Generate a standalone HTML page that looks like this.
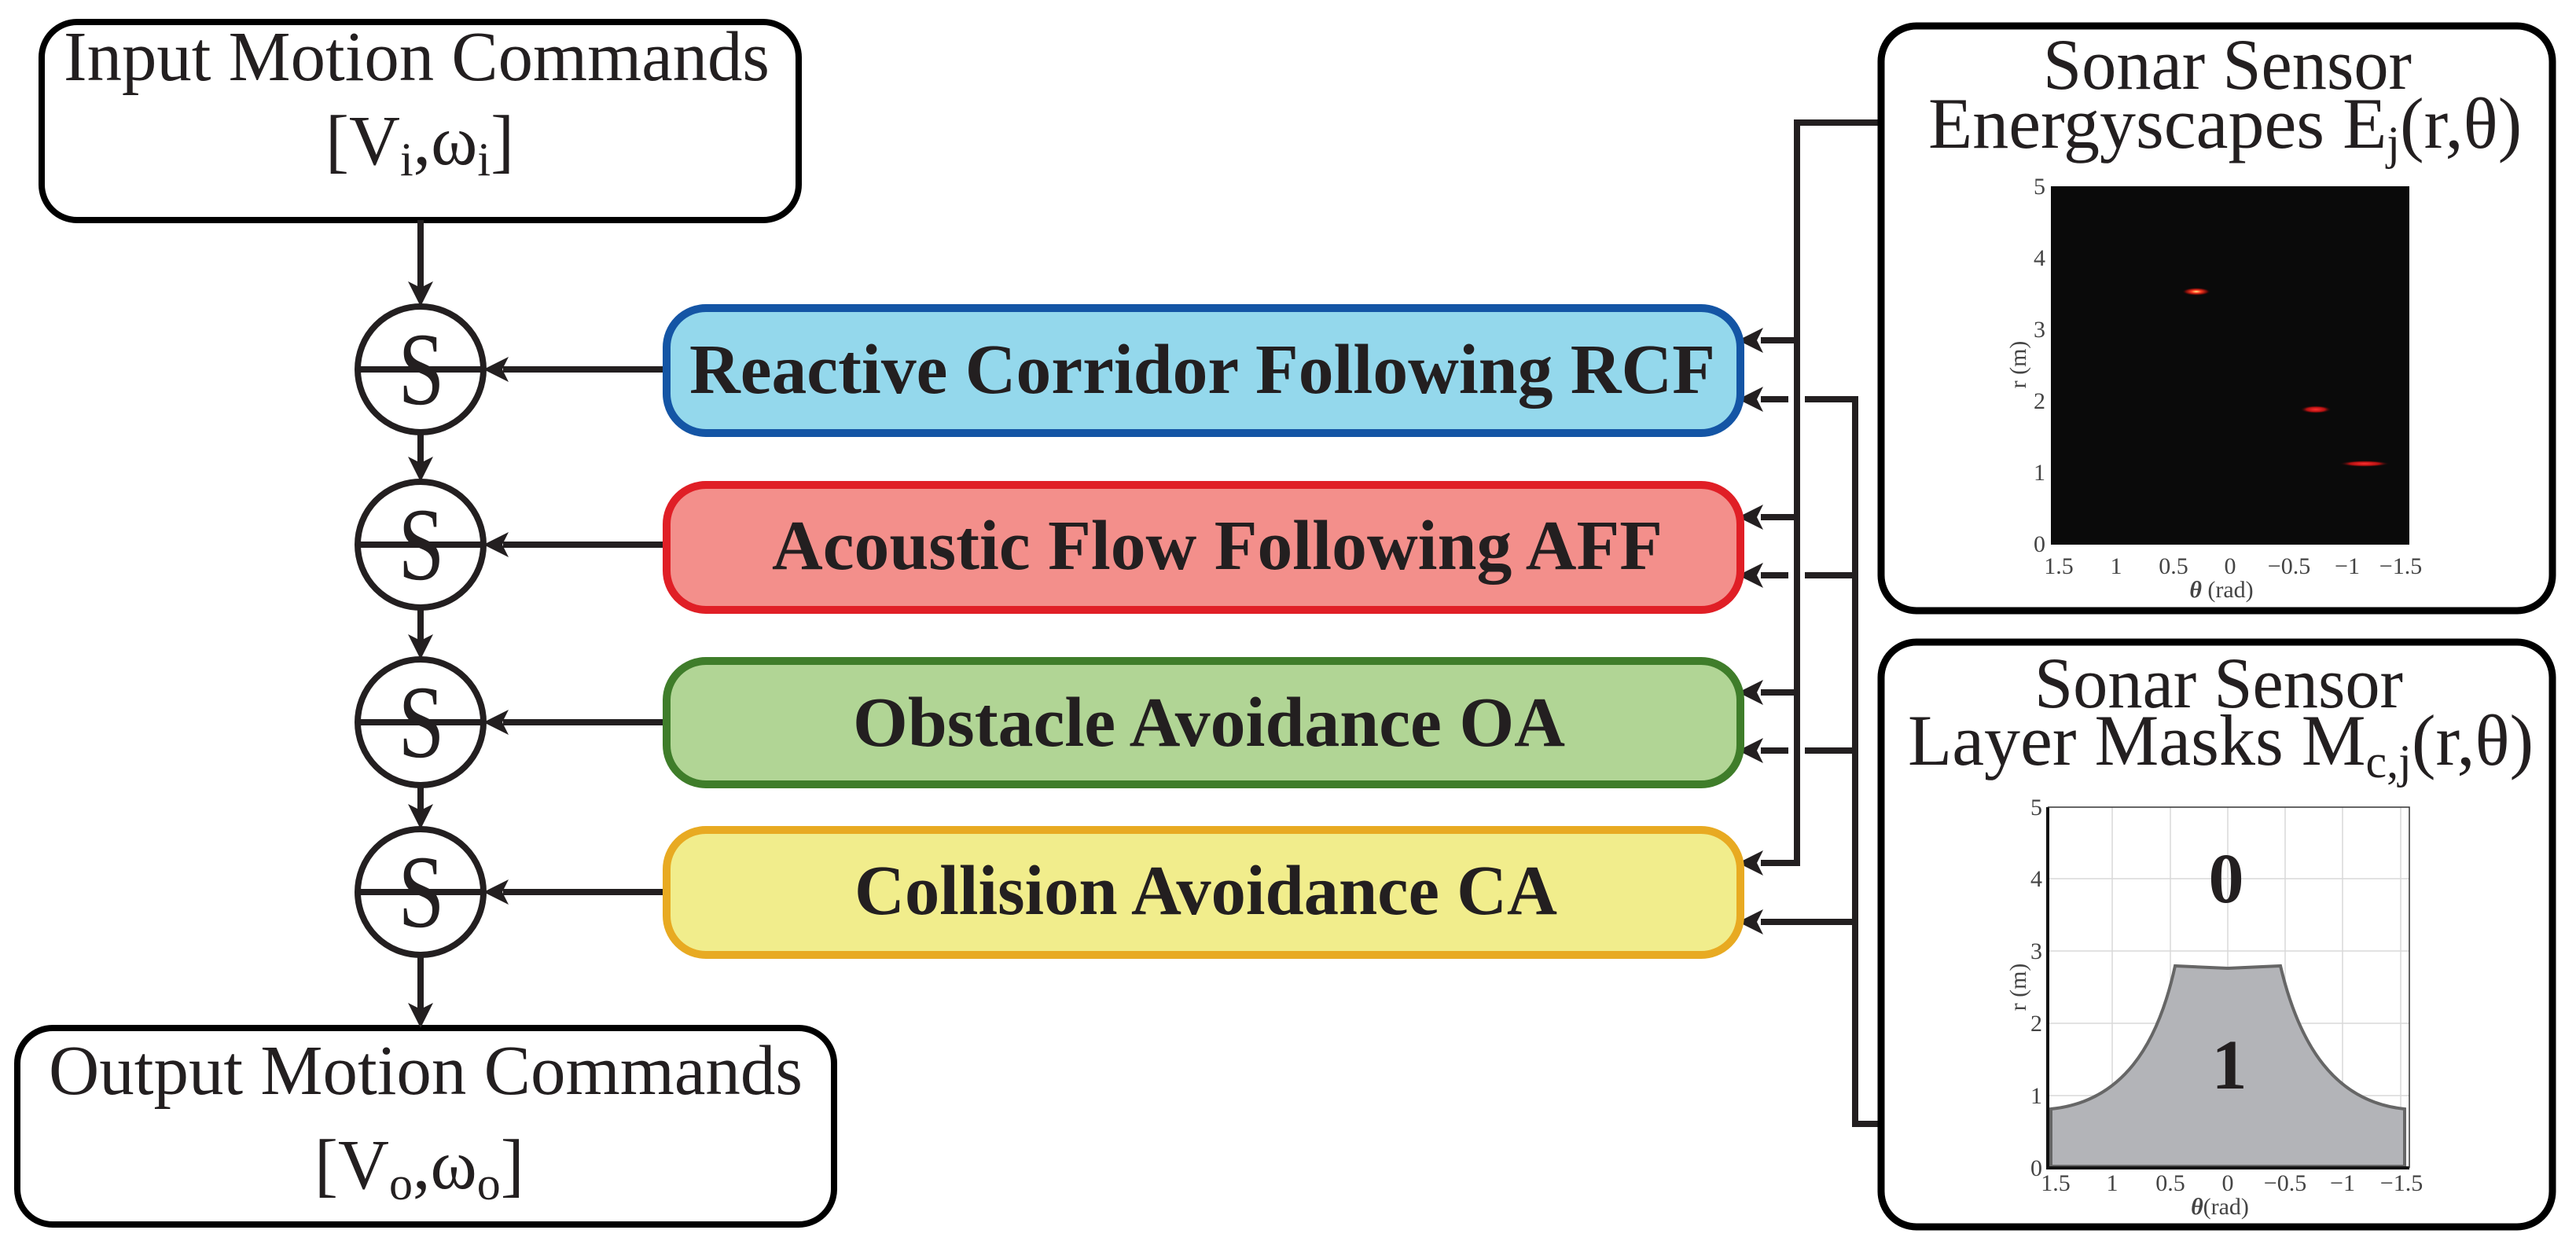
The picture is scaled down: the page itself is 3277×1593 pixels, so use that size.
<!DOCTYPE html>
<html><head><meta charset="utf-8"><style>html,body{margin:0;padding:0;background:#fff}svg{display:block}svg text{font-family:"Liberation Serif","Times New Roman",serif}</style></head>
<body>
<svg width="3277" height="1593" viewBox="0 0 3277 1593" xmlns="http://www.w3.org/2000/svg">
<defs>
<radialGradient id="sp1"><stop offset="0" stop-color="#fff38a"/><stop offset="0.35" stop-color="#ff3a20"/><stop offset="0.75" stop-color="#6a0a08"/><stop offset="1" stop-color="#0a0a0a" stop-opacity="0"/></radialGradient>
<radialGradient id="sp2"><stop offset="0" stop-color="#ff3030"/><stop offset="0.6" stop-color="#b01010"/><stop offset="1" stop-color="#0a0a0a" stop-opacity="0"/></radialGradient>
</defs>
<g fill="none" stroke="#231f20" stroke-width="8">
<rect x="53" y="28" width="963" height="252" rx="45" stroke="#000"/>
<rect x="22" y="1308" width="1039" height="250" rx="45" stroke="#000"/>
<circle cx="535" cy="470" r="80"/><circle cx="535" cy="693" r="80"/>
<circle cx="535" cy="919" r="80"/><circle cx="535" cy="1135" r="80"/>
<path d="M455 470H615M455 693H615M455 919H615M455 1135H615"/>
<path d="M535 280V372M535 550V596M535 773V820M535 999V1036M535 1215V1290"/>
<path d="M848 470H640M848 693H640M848 919H640M848 1135H640"/>
<path d="M2390 156H2286V1098H2240M2286 433H2240M2286 658H2240M2286 881H2240"/>
<path d="M2390 1430H2360V508H2296M2275 508H2240M2360 732H2296M2275 732H2240M2360 955H2296M2275 955H2240M2360 1173H2240"/>
</g>
<g fill="#231f20">
<path d="M535 390L519 358L535 366L551 358Z"/><path d="M535 613L519 581L535 589L551 581Z"/>
<path d="M535 839L519 807L535 815L551 807Z"/><path d="M535 1055L519 1023L535 1031L551 1023Z"/>
<path d="M535 1308L519 1276L535 1284L551 1276Z"/>
<path d="M615 470L647 454L639 470L647 486Z"/><path d="M615 693L647 677L639 693L647 709Z"/>
<path d="M615 919L647 903L639 919L647 935Z"/><path d="M615 1135L647 1119L639 1135L647 1151Z"/>
<path d="M2211 433L2243 417L2235 433L2243 449Z"/><path d="M2211 508L2243 492L2235 508L2243 524Z"/>
<path d="M2211 658L2243 642L2235 658L2243 674Z"/><path d="M2211 732L2243 716L2235 732L2243 748Z"/>
<path d="M2211 881L2243 865L2235 881L2243 897Z"/><path d="M2211 955L2243 939L2235 955L2243 971Z"/>
<path d="M2211 1098L2243 1082L2235 1098L2243 1114Z"/><path d="M2211 1173L2243 1157L2235 1173L2243 1189Z"/>
</g>
<g fill="#231f20" font-size="132" text-anchor="middle">
<text transform="translate(536,514) scale(0.8,1)">S</text><text transform="translate(536,737) scale(0.8,1)">S</text><text transform="translate(536,963) scale(0.8,1)">S</text><text transform="translate(536,1179) scale(0.8,1)">S</text>
</g>
<g stroke-width="10">
<rect x="848" y="392" width="1366" height="159" rx="50" fill="#94d8ec" stroke="#1455a5"/>
<rect x="848" y="617" width="1366" height="159" rx="50" fill="#f38f8b" stroke="#e01f26"/>
<rect x="848" y="841" width="1366" height="157" rx="50" fill="#b1d595" stroke="#3f7d2a"/>
<rect x="848" y="1056" width="1366" height="159" rx="50" fill="#f1ed8c" stroke="#e8aa22"/>
</g>
<g fill="#231f20" font-weight="bold" font-size="90">
<text x="877" y="500" textLength="1305" lengthAdjust="spacingAndGlyphs">Reactive Corridor Following RCF</text>
<text x="982" y="724" textLength="1133" lengthAdjust="spacingAndGlyphs">Acoustic Flow Following AFF</text>
<text x="1085" y="949" textLength="906" lengthAdjust="spacingAndGlyphs">Obstacle Avoidance OA</text>
<text x="1087" y="1163" textLength="894" lengthAdjust="spacingAndGlyphs">Collision Avoidance CA</text>
</g>
<g fill="#231f20" font-size="90">
<text x="81" y="102" textLength="898" lengthAdjust="spacingAndGlyphs">Input Motion Commands</text>
<text x="414" y="209">[V<tspan font-size="60" dy="14">i</tspan><tspan dy="-14">,ω</tspan><tspan font-size="60" dy="14">i</tspan><tspan dy="-14">]</tspan></text>
<text x="62" y="1392" textLength="959" lengthAdjust="spacingAndGlyphs">Output Motion Commands</text>
<text x="400" y="1512">[V<tspan font-size="60" dy="14">o</tspan><tspan dy="-14">,ω</tspan><tspan font-size="60" dy="14">o</tspan><tspan dy="-14">]</tspan></text>
</g>
<rect x="2393" y="33" width="854" height="744" rx="45" fill="none" stroke="#000" stroke-width="9"/>
<rect x="2393" y="817" width="854" height="744" rx="45" fill="none" stroke="#000" stroke-width="9"/>
<g fill="#231f20" font-size="92">
<text x="2599" y="113" textLength="469" lengthAdjust="spacingAndGlyphs">Sonar Sensor</text>
<text x="2453" y="188">Energyscapes E<tspan font-size="60" dy="14">j</tspan><tspan dy="-14">(r,θ)</tspan></text>
<text x="2588" y="900" textLength="469" lengthAdjust="spacingAndGlyphs">Sonar Sensor</text>
<text x="2427" y="973">Layer Masks M<tspan font-size="60" dy="16">c,j</tspan><tspan dy="-16">(r,θ)</tspan></text>
</g>
<rect x="2609" y="237" width="456" height="456" fill="#0a0a0a"/>
<ellipse cx="2794" cy="371" rx="18" ry="5" fill="url(#sp1)"/>
<ellipse cx="2946" cy="521" rx="20" ry="5" fill="url(#sp2)"/>
<ellipse cx="3008" cy="590" rx="32" ry="4" fill="url(#sp2)"/>
<g fill="#444" font-size="30">
<g text-anchor="end"><text x="2602" y="247">5</text><text x="2602" y="338">4</text><text x="2602" y="429">3</text><text x="2602" y="520">2</text><text x="2602" y="611">1</text><text x="2602" y="702">0</text></g>
<g text-anchor="middle"><text x="2619" y="730">1.5</text><text x="2692" y="730">1</text><text x="2765" y="730">0.5</text><text x="2837" y="730">0</text><text x="2912" y="730">−0.5</text><text x="2986" y="730">−1</text><text x="3054" y="730">−1.5</text>
<text x="2826" y="760"><tspan font-weight="bold" font-style="italic">θ</tspan> (rad)</text></g>
<text transform="translate(2577,464) rotate(-90)" text-anchor="middle">r (m)</text>
</g>
<rect x="2605" y="1027" width="460" height="459" fill="#fff"/>
<g stroke="#d9d9d9" stroke-width="1.5">
<path d="M2687 1027V1486M2761 1027V1486M2834 1027V1486M2907 1027V1486M2980 1027V1486M3054 1027V1486M2605 1118H3065M2605 1210H3065M2605 1302H3065M2605 1394H3065"/>
</g>
<path d="M2609 1484V1411C2700 1402 2745 1330 2767 1229L2834 1232L2901 1229C2925 1330 2970 1402 3059 1411V1484Z" fill="#b3b4b8" stroke="#666" stroke-width="4"/>
<path d="M2605 1027V1486H3065" fill="none" stroke="#111" stroke-width="4"/>
<path d="M2605 1027H3065V1486" fill="none" stroke="#333" stroke-width="1.5"/>
<g fill="#231f20" font-weight="bold" font-size="90" text-anchor="middle"><text x="2832" y="1148">0</text><text x="2836" y="1385">1</text></g>
<g fill="#444" font-size="30">
<g text-anchor="end"><text x="2598" y="1037">5</text><text x="2598" y="1128">4</text><text x="2598" y="1220">3</text><text x="2598" y="1312">2</text><text x="2598" y="1404">1</text><text x="2598" y="1496">0</text></g>
<g text-anchor="middle"><text x="2615" y="1515">1.5</text><text x="2687" y="1515">1</text><text x="2761" y="1515">0.5</text><text x="2834" y="1515">0</text><text x="2907" y="1515">−0.5</text><text x="2980" y="1515">−1</text><text x="3055" y="1515">−1.5</text>
<text x="2824" y="1545"><tspan font-weight="bold" font-style="italic">θ</tspan>(rad)</text></g>
<text transform="translate(2577,1256) rotate(-90)" text-anchor="middle">r (m)</text>
</g>
</svg>
</body></html>
